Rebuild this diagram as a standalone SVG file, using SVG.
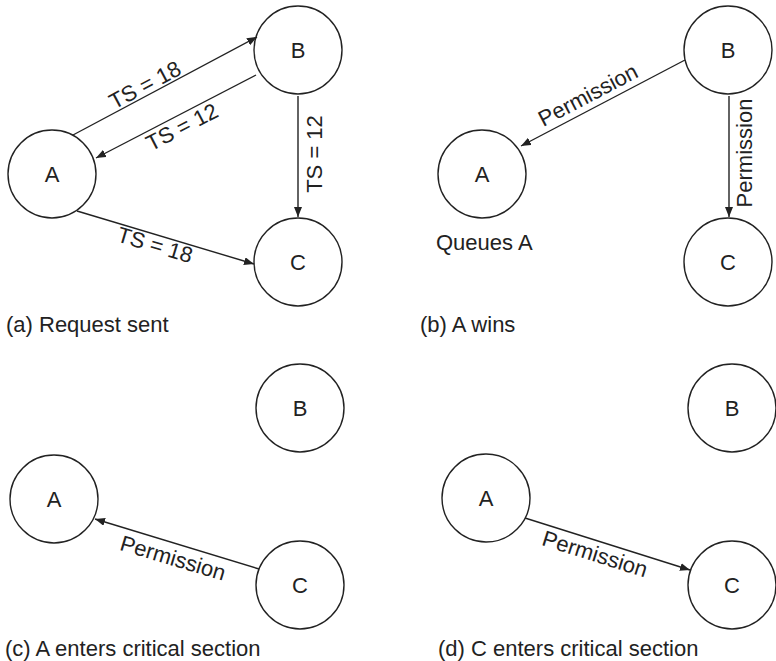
<svg xmlns="http://www.w3.org/2000/svg" width="776" height="661" viewBox="0 0 776 661">
<defs>
<marker id="arr" viewBox="0 0 10 8" refX="10" refY="4" markerWidth="10" markerHeight="8" markerUnits="userSpaceOnUse" orient="auto">
<path d="M0,0 L10,4 L0,8 Z" fill="#222"/>
</marker>
</defs>
<style>
.n circle{fill:#fff;stroke:#222;stroke-width:1.4}
text{font-family:"Liberation Sans",Arial,sans-serif;font-size:22px;fill:#222}
.c{text-anchor:middle;dominant-baseline:central}
.e line{stroke:#222;stroke-width:1.4;marker-end:url(#arr)}
</style>
<rect width="776" height="661" fill="#fff"/>

<!-- Panel (a) -->
<g id="a-A" class="n"><circle cx="52" cy="174" r="44"/><text class="c" x="52" y="174">A</text></g>
<g id="a-B" class="n"><circle cx="298" cy="50" r="44"/><text class="c" x="298" y="50">B</text></g>
<g id="a-C" class="n"><circle cx="298" cy="262" r="44"/><text class="c" x="298" y="262">C</text></g>
<g id="a-edges" class="e">
<line x1="73" y1="135" x2="257" y2="37"/>
<line x1="256" y1="75" x2="96" y2="158"/>
<line x1="298" y1="96" x2="298" y2="217"/>
<line x1="77" y1="211" x2="254" y2="264"/>
<text class="c" transform="translate(145,85) rotate(-28)">TS = 18</text>
<text class="c" transform="translate(182,127) rotate(-27.4)">TS = 12</text>
<text class="c" transform="translate(314,154) rotate(-90)">TS = 12</text>
<text class="c" transform="translate(155,245) rotate(16.7)">TS = 18</text>
</g>
<text x="6" y="332">(a) Request sent</text>

<!-- Panel (b) -->
<g id="b-A" class="n"><circle cx="482" cy="174" r="44"/><text class="c" x="482" y="174">A</text></g>
<g id="b-B" class="n"><circle cx="728" cy="50" r="44"/><text class="c" x="728" y="50">B</text></g>
<g id="b-C" class="n"><circle cx="728" cy="262" r="44"/><text class="c" x="728" y="262">C</text></g>
<g id="b-edges" class="e">
<line x1="685" y1="60" x2="521" y2="146"/>
<line x1="729" y1="96" x2="729" y2="217"/>
<text class="c" transform="translate(588,95) rotate(-27.7)">Permission</text>
<text class="c" transform="translate(744,153) rotate(-90)">Permission</text>
</g>
<text x="436" y="250">Queues A</text>
<text x="420" y="332">(b) A wins</text>

<!-- Panel (c) -->
<g id="c-A" class="n"><circle cx="54" cy="499" r="44"/><text class="c" x="54" y="499">A</text></g>
<g id="c-B" class="n"><circle cx="300" cy="408" r="44"/><text class="c" x="300" y="408">B</text></g>
<g id="c-C" class="n"><circle cx="300" cy="585" r="44"/><text class="c" x="300" y="585">C</text></g>
<g id="c-edges" class="e">
<line x1="259" y1="569" x2="95" y2="519"/>
<text class="c" transform="translate(173,558) rotate(16.6)">Permission</text>
</g>
<text x="5" y="656">(c) A enters critical section</text>

<!-- Panel (d) -->
<g id="d-A" class="n"><circle cx="486" cy="498" r="44"/><text class="c" x="486" y="498">A</text></g>
<g id="d-B" class="n"><circle cx="732" cy="408" r="44"/><text class="c" x="732" y="408">B</text></g>
<g id="d-C" class="n"><circle cx="732" cy="585" r="44"/><text class="c" x="732" y="585">C</text></g>
<g id="d-edges" class="e">
<line x1="525" y1="518" x2="690" y2="570"/>
<text class="c" transform="translate(595,554) rotate(17.5)">Permission</text>
</g>
<text x="438" y="656">(d) C enters critical section</text>
</svg>
